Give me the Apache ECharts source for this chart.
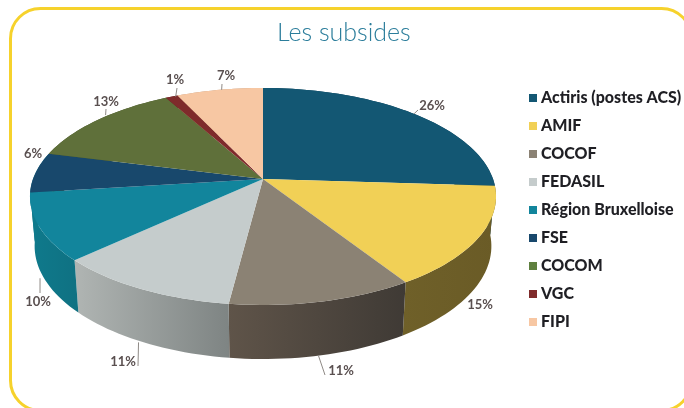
<!DOCTYPE html>
<html>
<head>
<meta charset="utf-8">
<style>html,body{margin:0;padding:0;background:#fff;overflow:hidden}#c{width:684px;height:408px}</style>
<script src="https://cdn.jsdelivr.net/npm/echarts@6/dist/echarts.min.js"></script>
</head>
<body>
<div id="c"></div>
<script>
const categories = ['Actiris (postes ACS)', 'AMIF', 'COCOF', 'FEDASIL', 'Région Bruxelloise', 'FSE', 'COCOM', 'VGC', 'FIPI'];
const shares = [26, 15, 11, 11, 10, 6, 13, 1, 7];
const titleText = 'Les subsides';

const topColors = ['#135773', '#f1d056', '#8b8274', '#c5cccc', '#12859c', '#18486c', '#5f703a', '#7f2b2b', '#f7c7a3'];
const legendColors = ['#135773', '#f1d056', '#8b8274', '#c5cccc', '#12859c', '#18486c', '#5f803f', '#7f2b2b', '#f7c7a3'];
const sideColors = [
  ['#0e4057', '#0e4057'], ['#6f6029', '#6a5b26'], ['#5f5449', '#3f3a35'], ['#b0b5b3', '#7e8483'],
  ['#0f7a8c', '#0f7182'], ['#0f7a8c', '#0f7a8c'], ['#47542b', '#47542b'], ['#5c1f1f', '#5c1f1f'], ['#c09a7e', '#c09a7e']
];
// label centre x, y, and end of the leader line (null = no leader); lower = leader starts on the lower rim
const labelSpots = [
  {x: 432, y: 106, lead: [418, 110]},
  {x: 480, y: 305, lead: null},
  {x: 341, y: 371, lead: [325, 375], lower: true, nudge: -3},
  {x: 123, y: 362, lead: [138, 366], lower: true, nudge: -5},
  {x: 38, y: 302, lead: [40, 293], lower: true, nudge: -4},
  {x: 33, y: 154, lead: null},
  {x: 106, y: 102, lead: [106, 109], nudge: 8, nudgeY: -5},
  {x: 175, y: 80, lead: [177, 88], nudge: 4},
  {x: 226, y: 76, lead: [222, 84], nudge: 2}
];

const cx = 263, cy = 179, A = 230, B = 105.7, k = 0.161;
const total = shares.reduce((a, b) => a + b, 0);
function proj(theta, lower) {
  const u = Math.sin(theta), v = -Math.cos(theta), d = 1 - k * v;
  const x = A * u / d, y = B * v / d;
  return lower ? [cx + 0.98 * x, cy + 49 + 1.04 * y] : [cx + x, cy + y];
}
function arc(a0, a1, lower) {
  const pts = [], n = Math.max(2, Math.ceil((a1 - a0) / 0.03));
  for (let i = 0; i <= n; i++) pts.push(proj(a0 + (a1 - a0) * i / n, lower));
  return pts;
}
function renderSlice(idx) {
  return function () {
    const before = shares.slice(0, idx).reduce((a, b) => a + b, 0);
    const a0 = before / total * 2 * Math.PI, a1 = (before + shares[idx]) / total * 2 * Math.PI;
    const topArc = arc(a0, a1, false), lowArc = arc(a0, a1, true).reverse();
    const kids = [
      {type: 'polygon', z2: 1, silent: true, shape: {points: topArc.concat(lowArc)},
       style: {fill: new echarts.graphic.LinearGradient(0, 0, 1, 0, [
         {offset: 0, color: sideColors[idx][0]}, {offset: 1, color: sideColors[idx][1]}])}},
      {type: 'polygon', z2: 10, silent: true, shape: {points: [[cx, cy]].concat(topArc)},
       style: {fill: topColors[idx]}}
    ];
    const spot = labelSpots[idx];
    if (spot.lead) {
      const s = proj((a0 + a1) / 2, !!spot.lower);
      kids.push({type: 'polyline', z2: 12, silent: true,
        shape: {points: [[s[0] + (spot.nudge || 0), s[1] + (spot.nudgeY || 0)], spot.lead]},
        style: {stroke: '#8f8a86', lineWidth: 1, fill: null}});
    }
    kids.push({type: 'text', z2: 13, silent: true, style: {
      text: shares[idx] + '%', x: spot.x, y: spot.y, align: 'center', verticalAlign: 'middle',
      fontFamily: 'Lato', fontSize: 13, fontWeight: 700, fill: '#5a5050'}});
    return {type: 'group', children: kids};
  };
}

const chart = echarts.init(document.getElementById('c'), null, {renderer: 'canvas'});
chart.setOption({
  animation: false,
  backgroundColor: '#ffffff',
  color: legendColors,
  title: {text: titleText, left: 272, top: 15,
    textStyle: {fontFamily: 'Lato', fontWeight: 300, fontSize: 25, color: '#2b7d9b'}},
  legend: {
    orient: 'vertical', left: 524, top: 85, icon: 'rect', itemWidth: 8, itemHeight: 8, itemGap: 12,
    selectedMode: false, data: categories,
    textStyle: {fontFamily: 'Lato', fontWeight: 900, fontSize: 16, color: '#1f1f24', lineHeight: 16,
      padding: [0, 0, 0, -1]}
  },
  graphic: [{type: 'rect', silent: true, z: -1, shape: {x: 10.5, y: 8.5, width: 681, height: 402, r: 30},
    style: {fill: 'none', stroke: '#f6d22c', lineWidth: 3}}],
  series: categories.map((name, i) => ({
    type: 'custom', name: name, coordinateSystem: 'none', data: [shares[i]],
    itemStyle: {color: legendColors[i]}, renderItem: renderSlice(i), silent: true
  }))
});
</script>
</body>
</html>
